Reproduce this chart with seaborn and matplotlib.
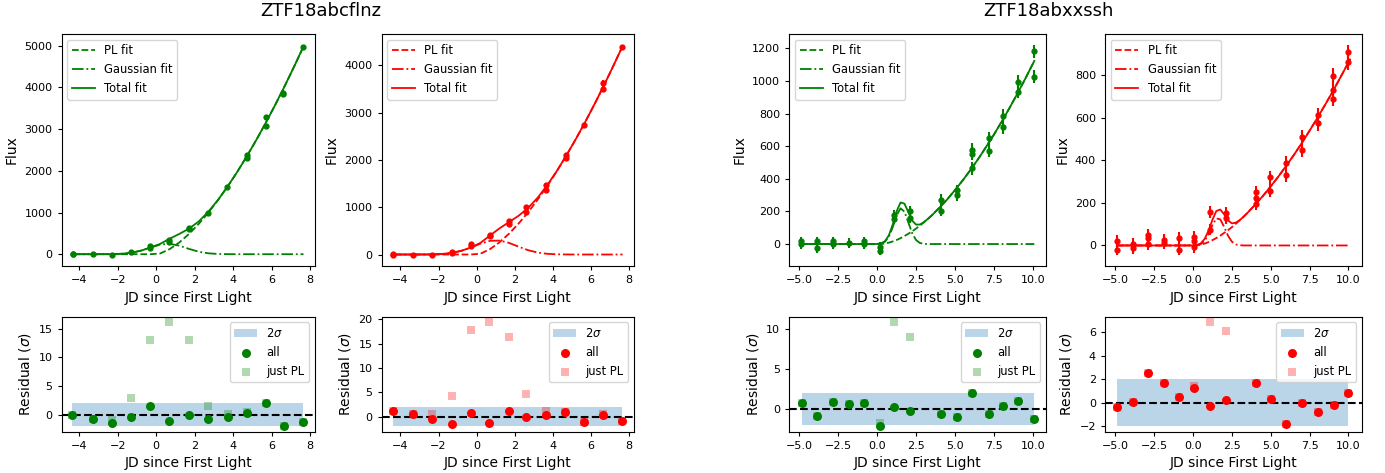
import matplotlib
matplotlib.use("Agg")
import matplotlib.pyplot as plt
import seaborn as sns

# ---- ZTF18abcflnz, g band (green) ----
t1 = [-4.31, -4.31, -3.27, -2.30, -1.32, -0.31, -0.31, 0.66, 0.66, 1.70, 1.70,
      2.71, 3.69, 4.70, 4.70, 5.70, 5.70, 6.61, 6.61, 7.62]
f1 = [0, 5, 0, -10, 45, 200, 150, 340, 285, 630, 595,
      1000, 1610, 2390, 2315, 3280, 3080, 3875, 3835, 4970]
e1 = [20, 20, 20, 20, 25, 30, 30, 30, 30, 35, 35,
      35, 40, 45, 45, 50, 50, 55, 55, 60]

fit_t_a = [-4.3, -3.8, -3.3, -2.8, -2.3, -1.8, -1.3, -0.8, -0.3, 0.2, 0.7, 1.2, 1.7,
           2.2, 2.7, 3.2, 3.7, 4.2, 4.7, 5.2, 5.7, 6.2, 6.7, 7.2, 7.65]
pl1 = [0, 0, 0, 0, 0, 0, 0, 0, 0, 17, 122, 282, 484,
       722, 992, 1291, 1617, 1968, 2343, 2741, 3160, 3599, 4058, 4537, 4985]
gauss1 = [0, 0, 0, 0.4, 2, 10, 34, 84, 160, 229, 249, 205, 128,
          60, 22, 6, 1, 0, 0, 0, 0, 0, 0, 0, 0]
total1 = [0, 0, 0, 0.4, 2, 10, 34, 84, 160, 246, 371, 487, 612,
          782, 1014, 1297, 1618, 1968, 2343, 2741, 3160, 3599, 4058, 4537, 4985]

res_t1 = [-4.35, -3.27, -2.30, -1.30, -0.31, 0.66, 1.69, 2.71, 3.72, 4.70, 5.69, 6.64, 7.65]
res_all1 = [0.0, -0.75, -1.5, -0.46, 1.5, -1.04, 0.0, -0.75, -0.4, 0.35, 2.08, -2.08, -1.33]
res_pl1 = [0.0, -0.75, -0.9, 2.9, 13.0, 16.2, 13.1, 1.5, 0.1, 0.45, 2.08, -2.08, -1.33]

# ---- ZTF18abcflnz, r band (red) ----
t2 = [-4.38, -4.38, -3.34, -2.35, -1.32, -1.32, -0.31, -0.31, 0.70, 0.70, 1.69, 1.69,
      2.61, 2.61, 3.65, 3.65, 4.66, 4.66, 5.65, 6.61, 6.61, 7.62]
f2 = [10, 0, 0, 0, 35, 55, 212, 170, 390, 410, 700, 650,
      1000, 900, 1480, 1370, 2100, 2040, 2730, 3630, 3500, 4380]
e2 = [20, 20, 20, 20, 25, 25, 30, 30, 30, 30, 35, 35,
      35, 35, 40, 40, 45, 45, 50, 55, 55, 60]

pl2 = [0, 0, 0, 0, 0, 0, 0, 0, 0, 17, 114, 259, 441,
       655, 895, 1161, 1450, 1760, 2091, 2441, 2809, 3194, 3597, 4016, 4406]
gauss2 = [0, 0, 0, 1, 3, 12, 34, 79, 149, 230, 289, 295, 245,
          165, 91, 41, 15, 4, 1, 0, 0, 0, 0, 0, 0]
total2 = [0, 0, 0, 1, 3, 12, 34, 79, 149, 247, 403, 554, 686,
          820, 986, 1202, 1465, 1764, 2092, 2441, 2809, 3194, 3597, 4016, 4406]

res_t2 = [-4.38, -3.34, -2.35, -1.32, -0.31, 0.66, 1.69, 2.61, 3.62, 4.63, 5.62, 6.61, 7.62]
res_all2 = [1.22, 0.6, -0.4, -1.5, 0.68, -1.3, 1.22, -0.07, 0.34, 0.88, -1.16, 0.34, -0.95]
res_pl2 = [1.22, 0.6, 0.54, 4.35, 17.7, 19.45, 16.4, 4.56, 1.1, 0.88, -1.16, 0.5, -0.95]

# ---- ZTF18abxxssh, g band (green) ----
t3 = [-4.88, -4.88, -3.86, -3.86, -2.84, -2.84, -1.83, -0.83, -0.83, 0.17, 0.17,
      1.11, 1.11, 2.14, 2.14, 4.11, 4.11, 5.13, 5.13, 6.10, 6.10, 6.10,
      7.17, 7.17, 8.09, 8.09, 9.06, 9.06, 10.1, 10.1]
f3 = [16, 0, 16, -24, 16, 0, 6, 16, 0, -20, -40,
      180, 151, 204, 160, 271, 204, 329, 302, 580, 555, 465,
      649, 571, 788, 718, 996, 935, 1184, 1027]
e3 = [30, 30, 30, 30, 30, 30, 30, 30, 30, 30, 30,
      30, 30, 30, 30, 35, 35, 35, 35, 40, 40, 40,
      40, 40, 40, 40, 40, 40, 40, 40]

fit_t_b = [-4.9, -4.5, -4.0, -3.5, -3.0, -2.5, -2.0, -1.5, -1.0, -0.5, 0.0,
           0.25, 0.5, 0.75, 1.0, 1.25, 1.5, 1.75, 2.0, 2.25, 2.5, 2.75, 3.0, 3.25, 3.5,
           4.0, 4.5, 5.0, 5.5, 6.0, 6.5, 7.0, 7.5, 8.0, 8.5, 9.0, 9.5, 10.1]
pl3 = [0, 0, 0, 0, 0, 0, 0, 0, 0, 0, 0,
       0.2, 3, 8.5, 16, 25, 36, 49, 63, 78, 95, 114, 133, 154, 175,
       223, 274, 331, 391, 455, 523, 596, 671, 751, 834, 921, 1011, 1124]
gauss3 = [0, 0, 0, 0, 0, 0, 0, 0, 0, 0, 0.6,
          3.4, 14.5, 45, 104, 176, 219, 199, 133, 66, 24, 6.3, 1.2, 0.2, 0,
          0, 0, 0, 0, 0, 0, 0, 0, 0, 0, 0, 0, 0]
total3 = [0, 0, 0, 0, 0, 0, 0, 0, 0, 0, 0.6,
          3.6, 17.5, 53.5, 120, 201, 255, 248, 196, 144, 119, 120, 134, 154, 175,
          223, 274, 331, 391, 455, 523, 596, 671, 751, 834, 921, 1011, 1124]

res_t3 = [-4.85, -3.84, -2.84, -1.83, -0.82, 0.19, 1.11, 2.11, 4.11, 5.13, 6.12, 7.17, 8.09, 9.06, 10.1]
res_all3 = [0.7, -0.87, 0.87, 0.58, 0.79, -2.19, 0.29, -0.25, -0.62, -1.03, 2.02, -0.58, 0.33, 1.03, -1.2]
res_pl3 = [0.7, -0.87, 0.87, 0.58, 0.79, -1.78, 10.9, 8.97, -0.62, -1.03, 2.02, -0.58, 0.33, 1.03, -1.2]

# ---- ZTF18abxxssh, r band (red) ----
t4 = [-4.91, -4.91, -3.89, -3.89, -2.91, -2.91, -2.91, -1.89, -1.89, -0.91, -0.91,
      0.06, 0.06, 0.06, 1.1, 1.1, 2.11, 2.11, 4.02, 4.02, 4.02, 4.98, 4.98,
      5.98, 5.98, 7.0, 7.0, 8.02, 8.02, 9.0, 9.0, 9.0, 9.98, 9.98]
f4 = [20, -19, 8, -11, 48, 36, 5, 27, 12, 36, -19,
      39, 20, -8, 156, 75, 153, 129, 250, 223, 195, 320, 257,
      387, 332, 512, 449, 613, 574, 797, 730, 691, 909, 862]
e4 = [28, 28, 28, 28, 28, 28, 28, 28, 28, 28, 28,
      28, 28, 28, 28, 28, 28, 28, 30, 30, 30, 30, 30,
      32, 32, 32, 32, 34, 34, 36, 36, 36, 36, 36]

pl4 = [0, 0, 0, 0, 0, 0, 0, 0, 0, 0, 0,
       0.2, 3.4, 8.9, 16, 25, 35, 46, 59, 72, 86, 102, 118, 135, 153,
       192, 233, 278, 325, 375, 427, 482, 540, 600, 662, 726, 793, 875]
gauss4 = [0, 0, 0, 0, 0, 0, 0, 0, 0, 0, 0.2,
          1.4, 6.5, 22, 53, 96, 127, 123, 88, 46, 18, 5, 1, 0.1, 0,
          0, 0, 0, 0, 0, 0, 0, 0, 0, 0, 0, 0, 0]
total4 = [0, 0, 0, 0, 0, 0, 0, 0, 0, 0, 0.2,
          1.6, 10, 31, 69, 121, 162, 169, 147, 118, 104, 107, 119, 135, 153,
          192, 233, 278, 325, 375, 427, 482, 540, 600, 662, 726, 793, 875]

res_t4 = [-4.91, -3.89, -2.91, -1.89, -0.91, 0.06, 1.1, 2.11, 4.02, 5.0, 6.0, 7.02, 8.04, 9.04, 9.98]
res_all4 = [-0.39, 0.11, 2.54, 1.65, 0.5, 1.28, -0.28, 0.22, 1.65, 0.36, -1.76, 0.0, -0.78, -0.14, 0.81]
res_pl4 = [-0.39, 0.11, 2.54, 1.65, 0.5, 1.45, 6.87, 6.11, 1.65, 0.36, -1.76, 0.0, -0.78, -0.14, 0.81]

objects = ["ZTF18abcflnz", "ZTF18abxxssh"]

TICK_FS = 8
LABEL_FS = 10
LEG_FS = 8.3

panels = [
    dict(color="green", t=t1, f=f1, e=e1, ft=fit_t_a, pl=pl1, ga=gauss1, tot=total1,
         rt=res_t1, ra=res_all1, rp=res_pl1, lt=61.7, w=253.3),
    dict(color="red", t=t2, f=f2, e=e2, ft=fit_t_a, pl=pl2, ga=gauss2, tot=total2,
         rt=res_t2, ra=res_all2, rp=res_pl2, lt=381.7, w=252.3),
    dict(color="green", t=t3, f=f3, e=e3, ft=fit_t_b, pl=pl3, ga=gauss3, tot=total3,
         rt=res_t3, ra=res_all3, rp=res_pl3, lt=789.3, w=256.7),
    dict(color="red", t=t4, f=f4, e=e4, ft=fit_t_b, pl=pl4, ga=gauss4, tot=total4,
         rt=res_t4, ra=res_all4, rp=res_pl4, lt=1105.0, w=256.7),
]

W, H = 1385, 473
fig = plt.figure(figsize=(W / 100, H / 100), dpi=100)

for p in panels:
    c = p["color"]
    ax = fig.add_axes([p["lt"] / W, (H - 266) / H, p["w"] / W, 232 / H])
    axr = fig.add_axes([p["lt"] / W, (H - 431.7) / H, p["w"] / W, 115 / H])

    # light curve + fits
    ax.errorbar(p["t"], p["f"], yerr=p["e"], fmt="o", color=c, ms=3.5,
                elinewidth=1.5, capsize=0, zorder=3)
    sns.lineplot(x=p["ft"], y=p["pl"], ax=ax, color=c, linestyle="--", lw=1.3,
                 label="PL fit", sort=False)
    sns.lineplot(x=p["ft"], y=p["ga"], ax=ax, color=c, linestyle="-.", lw=1.3,
                 label="Gaussian fit", sort=False)
    sns.lineplot(x=p["ft"], y=p["tot"], ax=ax, color=c, linestyle="-", lw=1.3,
                 label="Total fit", sort=False)
    ax.legend(loc="upper left", fontsize=LEG_FS)
    ax.set_xlabel("JD since First Light", fontsize=LABEL_FS)
    ax.set_ylabel("Flux", fontsize=LABEL_FS)

    # residuals
    axr.fill_between(p["rt"], -2, 2, color="C0", alpha=0.3, lw=0, label="2$\\sigma$")
    axr.axhline(0, color="k", ls="--", lw=1.5)
    sns.scatterplot(x=p["rt"], y=p["rp"], ax=axr, color=c, marker="s", s=36,
                    alpha=0.3, linewidth=0, label="just PL", zorder=2)
    sns.scatterplot(x=p["rt"], y=p["ra"], ax=axr, color=c, marker="o", s=42,
                    linewidth=0, label="all", zorder=3)
    handles, labels = axr.get_legend_handles_labels()
    order = [labels.index(k) for k in ["2$\\sigma$", "all", "just PL"]]
    axr.legend([handles[i] for i in order], [labels[i] for i in order],
               loc="upper right", fontsize=LEG_FS)
    axr.set_xlabel("JD since First Light", fontsize=LABEL_FS)
    axr.set_ylabel("Residual ($\\sigma$)", fontsize=LABEL_FS)

    for a in (ax, axr):
        a.tick_params(labelsize=TICK_FS, length=3, width=0.8)
        for s in a.spines.values():
            s.set_linewidth(0.8)
    axr.set_xlim(ax.get_xlim())

fig.text(321 / W, 1 - 11 / H, objects[0], ha="center", va="center", fontsize=13)
fig.text(1048 / W, 1 - 11 / H, objects[1], ha="center", va="center", fontsize=13)

fig.savefig("out.png", dpi=100)
